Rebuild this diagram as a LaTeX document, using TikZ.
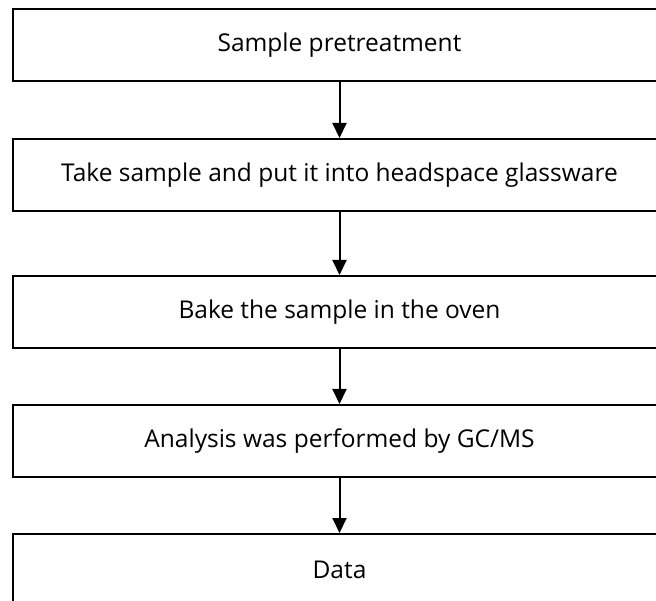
\documentclass[tikz,border=0pt]{standalone}
\usepackage{fontspec}
\setmainfont{Open Sans}
\usetikzlibrary{arrows.meta}
\begin{document}
\begin{tikzpicture}[x=1pt,y=-1pt,
  stepbox/.style={draw=black, line width=2pt, minimum width=654pt, minimum height=72pt, inner sep=0pt, font=\fontsize{24.5}{28}\selectfont, anchor=north},
  flow/.style={line width=2pt, -{Triangle[length=15pt,width=14pt]}}]
\useasboundingbox (0,0) rectangle (656,601);
\node[stepbox] (b1) at (339.5,8) {Sample pretreatment};
\node[stepbox] (b2) at (339.5,138) {Take sample and put it into headspace glassware};
\node[stepbox] (b3) at (339.5,275) {Bake the sample in the oven};
\node[stepbox] (b4) at (339.5,404) {Analysis was performed by GC/MS};
\node[stepbox] (b5) at (339.5,533) {Data};
\draw[flow] (b1.south) -- (b2.north);
\draw[flow] (b2.south) -- (b3.north);
\draw[flow] (b3.south) -- (b4.north);
\draw[flow] (b4.south) -- (b5.north);
\end{tikzpicture}
\end{document}
